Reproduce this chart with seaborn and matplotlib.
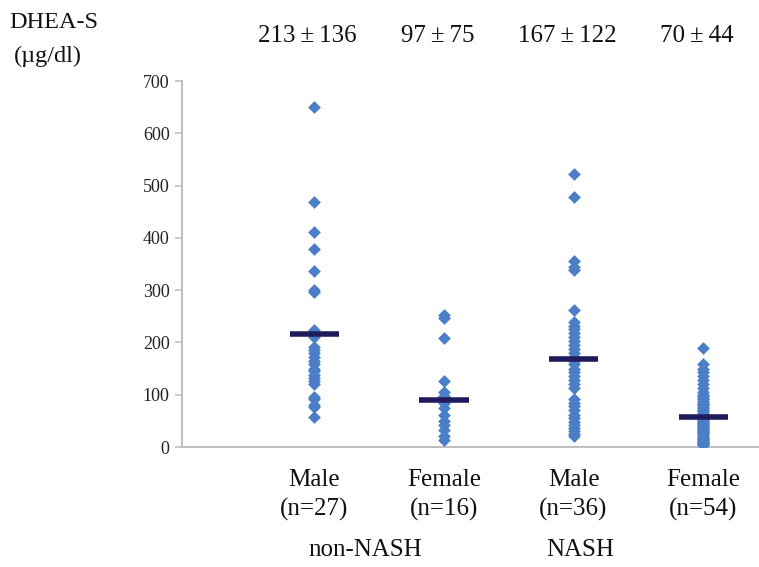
import matplotlib
matplotlib.use("Agg")
import matplotlib.pyplot as plt
import numpy as np
import pandas as pd
import seaborn as sns

# values (ug/dl)
groups = ["Male\n(n=27)", "Female\n(n=16)", "Male\n(n=36)", "Female\n(n=54)"]
top_labels = ["213\u2009\u00b1\u2009136", "97\u2009\u00b1\u200975",
              "167\u2009\u00b1\u2009122", "70\u2009\u00b1\u200944"]
bar_values = [217, 90, 168, 58]

nonnash_male = [650, 468, 412, 378, 336, 300, 296, 224, 218, 210, 192, 186, 180, 172,
                165, 158, 150, 145, 138, 132, 126, 120, 96, 92, 80, 76, 57]
nonnash_female = [252, 246, 208, 127, 105, 98, 94, 90, 85, 75, 62, 50, 42, 33, 22, 14]
nash_male = [522, 478, 356, 345, 338, 262, 240, 232, 225, 218, 210, 202, 195, 188, 180,
             172, 165, 158, 150, 143, 135, 128, 120, 113, 92, 85, 78, 70, 62, 55, 48, 42,
             36, 30, 25, 22]
nash_female = [190, 158, 150, 143, 135, 128, 120, 112, 105, 100, 97, 94, 91, 88, 85, 82,
               80, 77, 74, 71, 68, 65, 62, 60, 58, 56, 54, 52, 50, 48, 46, 44, 42, 40, 38,
               36, 34, 32, 30, 28, 26, 24, 22, 20, 18, 16, 14, 12, 10, 9, 8, 6, 5, 3]

df = pd.concat([
    pd.DataFrame({"group": g, "value": v})
    for g, v in zip(groups, [nonnash_male, nonnash_female, nash_male, nash_female])
])

sns.set_theme(style="white")
plt.rcParams["font.family"] = ["Liberation Serif", "DejaVu Serif"]

fig = plt.figure(figsize=(7.59, 5.67), dpi=100)
ax = fig.add_axes([0.24, 0.2116, 0.76, 0.6455])

sns.stripplot(data=df, x="group", y="value", order=groups, jitter=False,
              marker="D", size=6.5, color="#4a7fc7", linewidth=0, ax=ax)

xs = np.arange(len(groups))
ax.hlines(bar_values, xs - 0.19, xs + 0.19, color="#1f1b5c", lw=4, zorder=5)

ax.set_xlim(-1.018, 3.43)
ax.set_ylim(0, 700)
ax.set_yticks(range(0, 701, 100))
ax.set_xlabel("")
ax.set_ylabel("")

for s in ["top", "right"]:
    ax.spines[s].set_visible(False)
for s in ["left", "bottom"]:
    ax.spines[s].set_color("#bfbfbf")
    ax.spines[s].set_linewidth(1.5)

ax.tick_params(axis="y", which="major", left=True, length=5, width=1.2, color="#bfbfbf",
               labelsize=13, labelcolor="#222222", pad=4)
ax.tick_params(axis="x", bottom=False, labelsize=18, labelcolor="#111111", pad=10)
for lab in ax.get_xticklabels():
    lab.set_linespacing(1.4)

for x, t in zip(xs, top_labels):
    ax.text(x - 0.05, 1.123, t, transform=ax.get_xaxis_transform(), ha="center",
            va="center", fontsize=18, color="#111111")

ax.text(0.39, -0.281, "non-NASH", transform=ax.get_xaxis_transform(), ha="center",
        va="center", fontsize=18, color="#111111")
ax.text(2.05, -0.281, "NASH", transform=ax.get_xaxis_transform(), ha="center",
        va="center", fontsize=18, color="#111111")

fig.text(0.071, 0.961, "DHEA-S", ha="center", va="center", fontsize=17.5, color="#111111")
fig.text(0.063, 0.901, "(\u00b5g/dl)", ha="center", va="center", fontsize=17.5, color="#111111")

fig.savefig("out.png", dpi=100)
